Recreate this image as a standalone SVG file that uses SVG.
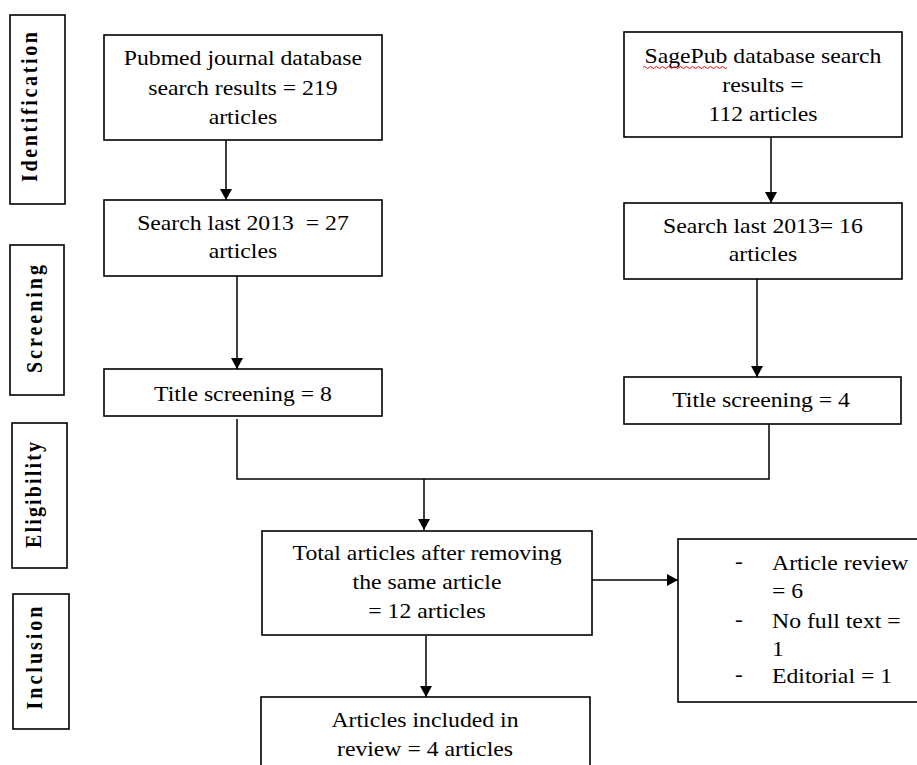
<svg xmlns="http://www.w3.org/2000/svg" width="917" height="765" viewBox="0 0 917 765" font-family="'Liberation Serif', 'Times New Roman', 'DejaVu Serif', serif">
<style>
.box{fill:#fff;stroke:#000;stroke-width:1.6}
.ln{fill:none;stroke:#000;stroke-width:1.5}
text{font-family:'Liberation Serif','Times New Roman','DejaVu Serif',serif}
.t{font-size:21px;fill:#000}
.m{text-anchor:middle}
.s{font-size:20px;font-weight:bold;fill:#000;text-anchor:middle}
</style>
<defs>
<marker id="ah" markerUnits="userSpaceOnUse" markerWidth="11" markerHeight="12" refX="11" refY="6" orient="auto">
<path d="M0,0 L11,6 L0,12 z" fill="#000"/>
</marker>
</defs>
<rect width="917" height="765" fill="#fff"/>

<g id="stage-identification">
<rect class="box" x="10" y="15" width="55" height="189"/>
<text class="s" transform="translate(37,107) scale(1.13,1) rotate(-90)" textLength="150" lengthAdjust="spacing">Identification</text>
</g>
<g id="stage-screening">
<rect class="box" x="10" y="245" width="54" height="150"/>
<text class="s" transform="translate(42,319) scale(1.13,1) rotate(-90)" textLength="108" lengthAdjust="spacing">Screening</text>
</g>
<g id="stage-eligibility">
<rect class="box" x="12" y="423" width="55" height="145"/>
<text class="s" transform="translate(41,495) scale(1.13,1) rotate(-90)" textLength="106" lengthAdjust="spacing">Eligibility</text>
</g>
<g id="stage-inclusion">
<rect class="box" x="13" y="594" width="56" height="135"/>
<text class="s" transform="translate(42,658) scale(1.13,1) rotate(-90)" textLength="103" lengthAdjust="spacing">Inclusion</text>
</g>

<g id="connectors">
<line class="ln" x1="226" y1="140" x2="226" y2="200" marker-end="url(#ah)"/>
<line class="ln" x1="237" y1="276" x2="237" y2="369" marker-end="url(#ah)"/>
<line class="ln" x1="771" y1="137" x2="771" y2="203" marker-end="url(#ah)"/>
<line class="ln" x1="757" y1="279" x2="757" y2="377" marker-end="url(#ah)"/>
<polyline class="ln" points="237,419 237,479 769,479 769,424"/>
<line class="ln" x1="424" y1="479" x2="424" y2="530" marker-end="url(#ah)"/>
<line class="ln" x1="592" y1="580" x2="678" y2="580" marker-end="url(#ah)"/>
<line class="ln" x1="426" y1="636" x2="426" y2="697" marker-end="url(#ah)"/>
</g>

<g id="pubmed">
<rect class="box" x="104" y="35" width="278" height="105"/>
<g transform="scale(1.13,1)">
<text class="t m" x="215" y="65">Pubmed journal database</text>
<text class="t m" x="215" y="95">search results = 219</text>
<text class="t m" x="215" y="124">articles</text>
</g>
</g>
<g id="pubmed-2013">
<rect class="box" x="104" y="200" width="278" height="76"/>
<g transform="scale(1.13,1)">
<text class="t m" x="215" y="230" xml:space="preserve">Search last 2013  = 27</text>
<text class="t m" x="215" y="258">articles</text>
</g>
</g>
<g id="pubmed-title">
<rect class="box" x="104" y="369" width="278" height="47"/>
<g transform="scale(1.13,1)">
<text class="t m" x="215" y="401">Title screening = 8</text>
</g>
</g>

<g id="sagepub">
<rect class="box" x="624" y="32" width="278" height="105"/>
<g transform="scale(1.13,1)">
<text class="t m" x="675.2" y="63">SagePub database search</text>
<text class="t m" x="675.2" y="92">results =</text>
<text class="t m" x="675.2" y="121">112 articles</text>
</g>
<path d="M643,67.5 q1.5,-2 3,0 t3,0 t3,0 t3,0 t3,0 t3,0 t3,0 t3,0 t3,0 t3,0 t3,0 t3,0 t3,0 t3,0 t3,0 t3,0 t3,0 t3,0 t3,0 t3,0 t3,0 t3,0 t3,0 t3,0 t3,0 t3,0 t3,0 t3,0" fill="none" stroke="#e00" stroke-width="1"/>
</g>
<g id="sagepub-2013">
<rect class="box" x="624" y="203" width="278" height="76"/>
<g transform="scale(1.13,1)">
<text class="t m" x="675.2" y="233">Search last 2013= 16</text>
<text class="t m" x="675.2" y="261">articles</text>
</g>
</g>
<g id="sagepub-title">
<rect class="box" x="624" y="377" width="277" height="47"/>
<g transform="scale(1.13,1)">
<text class="t m" x="673.5" y="407">Title screening = 4</text>
</g>
</g>

<g id="total">
<rect class="box" x="262" y="531" width="330" height="104"/>
<g transform="scale(1.13,1)">
<text class="t m" x="377.9" y="560">Total articles after removing</text>
<text class="t m" x="377.9" y="589">the same article</text>
<text class="t m" x="377.9" y="618">= 12 articles</text>
</g>
</g>

<g id="excluded">
<rect class="box" x="678" y="539" width="250" height="163"/>
<g transform="scale(1.13,1)">
<text class="t" x="650.4" y="568">-</text>
<text class="t" x="683.2" y="570">Article review</text>
<text class="t" x="683.2" y="598">= 6</text>
<text class="t" x="650.4" y="626">-</text>
<text class="t" x="683.2" y="628">No full text =</text>
<text class="t" x="683.2" y="656">1</text>
<text class="t" x="650.4" y="681">-</text>
<text class="t" x="683.2" y="683">Editorial = 1</text>
</g>
</g>

<g id="included">
<rect class="box" x="261" y="697" width="329" height="80"/>
<g transform="scale(1.13,1)">
<text class="t m" x="376.1" y="727">Articles included in</text>
<text class="t m" x="376.1" y="756">review = 4 articles</text>
</g>
</g>
</svg>
